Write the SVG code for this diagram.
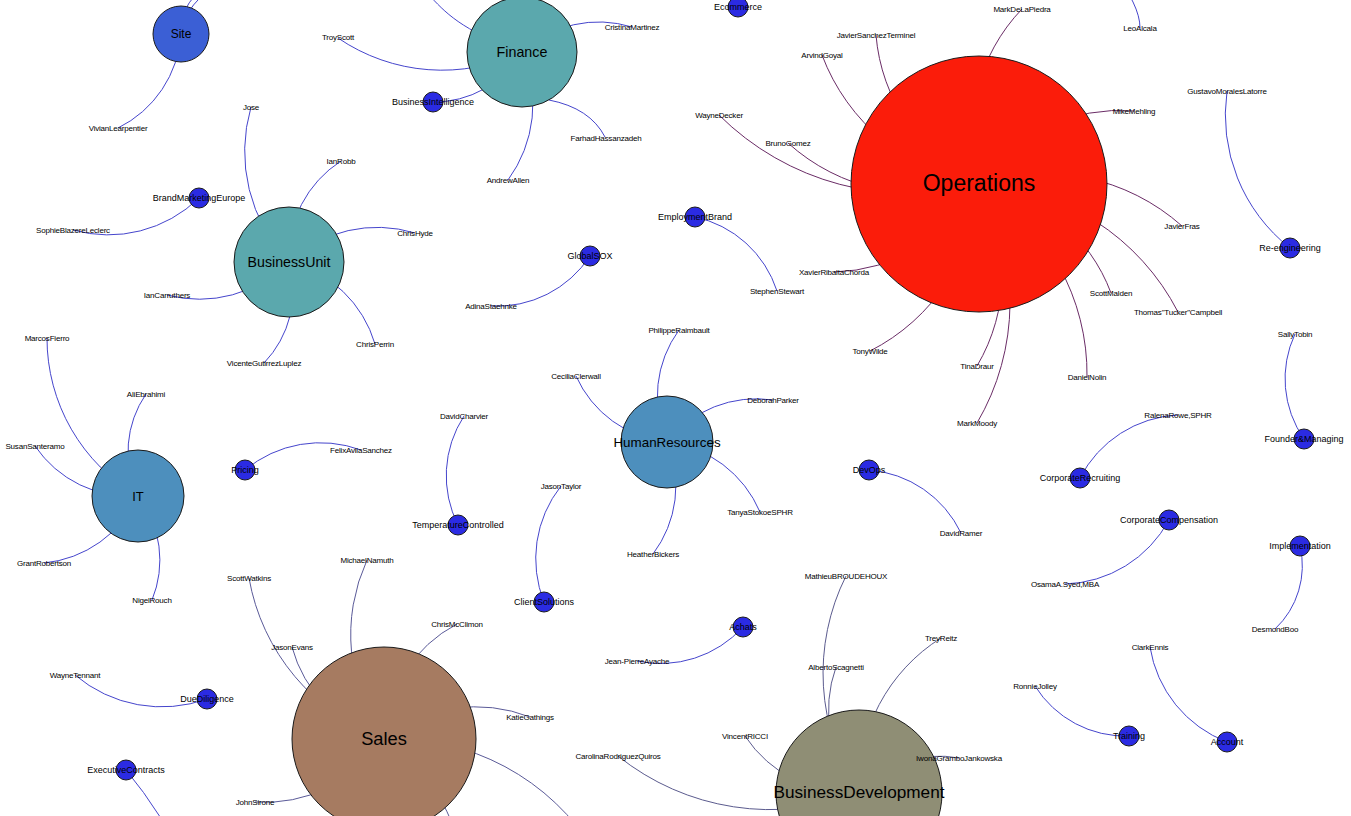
<svg xmlns="http://www.w3.org/2000/svg" width="1351" height="816" viewBox="0 0 1351 816">
<style>
text{font-family:"Liberation Sans",Arial,sans-serif;fill:#000;text-anchor:middle}
.l{font-size:8px;letter-spacing:-0.2px}
.s{font-size:9px}
path{fill:none;stroke-width:1}
.e{stroke:#4545cc}
.eo{stroke:#6a2c66}
.es{stroke:#5a5a98}
.eb{stroke:#5b5b8e}
circle{stroke:#1a1a1a;stroke-width:1}
.sm{fill:#2b2be3}
</style>
<rect width="1351" height="816" fill="#fff"/>
<g id="connectors">
<path class="e" d="M181 34 A113.2 113.2 0 0 1 118 128"/>
<path class="e" d="M181 34 A50.1 50.1 0 0 1 203 -11"/>
<path class="e" d="M181 34 A61.2 61.2 0 0 1 219 -14"/>
<path class="e" d="M522 52 A184.5 184.5 0 0 1 338 38"/>
<path class="e" d="M522 52 A102.1 102.1 0 0 1 433 102"/>
<path class="e" d="M522 52 A112.8 112.8 0 0 1 632 27"/>
<path class="e" d="M522 52 L549 100 Q590 108 605 137"/>
<path class="e" d="M522 52 A128.8 128.8 0 0 1 508 180"/>
<path class="e" d="M428 -6 C445 12 460 30 522 52"/>
<path class="eo" d="M979 184 A180.2 180.2 0 0 1 1022 9"/>
<path class="eo" d="M979 184 A181.1 181.1 0 0 1 876 35"/>
<path class="eo" d="M979 184 A203.2 203.2 0 0 1 822 55"/>
<path class="eo" d="M979 184 A269 269 0 0 1 719 115"/>
<path class="eo" d="M979 184 A195.4 195.4 0 0 1 788 143"/>
<path class="eo" d="M979 184 A171.3 171.3 0 0 1 1134 111"/>
<path class="eo" d="M979 184 A207.3 207.3 0 0 1 1182 226"/>
<path class="eo" d="M979 184 A236.6 236.6 0 0 1 1178 312"/>
<path class="eo" d="M979 184 A171.2 171.2 0 0 1 1111 293"/>
<path class="eo" d="M979 184 A221.2 221.2 0 0 1 1087 377"/>
<path class="eo" d="M979 184 A239 239 0 0 1 977 423"/>
<path class="eo" d="M979 184 A182 182 0 0 1 977 366"/>
<path class="eo" d="M979 184 A199.4 199.4 0 0 1 870 351"/>
<path class="eo" d="M979 184 A169.6 169.6 0 0 1 834 272"/>
<path class="e" d="M695 217 A110.5 110.5 0 0 1 777 291"/>
<path class="e" d="M1290 248 A169.2 169.2 0 0 1 1227 91"/>
<path class="e" d="M1112 -30 Q1140 5 1140 28"/>
<path class="e" d="M289 262 A159.6 159.6 0 0 1 251 107"/>
<path class="e" d="M289 262 A113.6 113.6 0 0 1 341 161"/>
<path class="e" d="M289 262 A129.3 129.3 0 0 1 415 233"/>
<path class="e" d="M289 262 A118.8 118.8 0 0 1 375 344"/>
<path class="e" d="M289 262 A104 104 0 0 1 264 363"/>
<path class="e" d="M289 262 A126.4 126.4 0 0 1 167 295"/>
<path class="e" d="M199 198 A130 130 0 0 1 73 230"/>
<path class="e" d="M590 256 A110.9 110.9 0 0 1 491 306"/>
<path class="e" d="M138 496 A182.3 182.3 0 0 1 47 338"/>
<path class="e" d="M138 496 A102.3 102.3 0 0 1 146 394"/>
<path class="e" d="M138 496 A114.5 114.5 0 0 1 35 446"/>
<path class="e" d="M138 496 A115.4 115.4 0 0 1 44 563"/>
<path class="e" d="M138 496 A104.9 104.9 0 0 1 152 600"/>
<path class="e" d="M245 470 A117.7 117.7 0 0 1 361 450"/>
<path class="e" d="M458 525 A109.2 109.2 0 0 1 464 416"/>
<path class="e" d="M544 602 A117.2 117.2 0 0 1 561 486"/>
<path class="e" d="M667 442 A112.6 112.6 0 0 1 679 330"/>
<path class="e" d="M667 442 A112.4 112.4 0 0 1 576 376"/>
<path class="e" d="M667 442 A114 114 0 0 1 773 400"/>
<path class="e" d="M667 442 A116.4 116.4 0 0 1 760 512"/>
<path class="e" d="M667 442 A112.9 112.9 0 0 1 653 554"/>
<path class="e" d="M869 470 A111.5 111.5 0 0 1 961 533"/>
<path class="e" d="M1080 478 A116.5 116.5 0 0 1 1178 415"/>
<path class="e" d="M1304 439 A105.4 105.4 0 0 1 1295 334"/>
<path class="e" d="M1169 520 A122.1 122.1 0 0 1 1065 584"/>
<path class="e" d="M1300 546 A86.7 86.7 0 0 1 1275 629"/>
<path class="e" d="M1227 742 A122.3 122.3 0 0 1 1150 647"/>
<path class="e" d="M1129 736 A106.5 106.5 0 0 1 1035 686"/>
<path class="e" d="M743 627 A111.3 111.3 0 0 1 637 661"/>
<path class="e" d="M207 699 A134.2 134.2 0 0 1 75 675"/>
<path class="e" d="M126 770 A436.3 436.3 0 0 1 200 1200"/>
<path class="es" d="M384 739 A210.1 210.1 0 0 1 249 578"/>
<path class="es" d="M384 739 A130.1 130.1 0 0 1 292 647"/>
<path class="es" d="M384 739 A179.8 179.8 0 0 1 367 560"/>
<path class="es" d="M384 739 A136.2 136.2 0 0 1 457 624"/>
<path class="es" d="M384 739 A147.6 147.6 0 0 1 530 717"/>
<path class="es" d="M384 739 A143.6 143.6 0 0 1 255 802"/>
<path class="es" d="M384 739 A235 235 0 0 1 595 852"/>
<path class="es" d="M384 739 A184.7 184.7 0 0 1 465 905"/>
<path class="eb" d="M859 793 A217.4 217.4 0 0 1 846 576"/>
<path class="eb" d="M859 793 A128.1 128.1 0 0 1 836 667"/>
<path class="eb" d="M859 793 A175.4 175.4 0 0 1 941 638"/>
<path class="eb" d="M859 793 A106 106 0 0 1 959 758"/>
<path class="eb" d="M859 793 A127.5 127.5 0 0 1 745 736"/>
<path class="eb" d="M859 793 A243.8 243.8 0 0 1 618 756"/>
</g>
<g id="n-Site"><circle cx="181" cy="34" r="28" fill="#3b5fd5"/><text x="181" y="34" dy=".35em" font-size="12">Site</text></g>
<g id="n-Finance"><circle cx="522" cy="52" r="55" fill="#5ba8ad"/><text x="522" y="52" dy=".35em" font-size="14.3">Finance</text></g>
<g id="n-Operations"><circle cx="979" cy="184" r="128" fill="#fb1c0a"/><text x="979" y="183" dy=".35em" font-size="23">Operations</text></g>
<g id="n-BusinessUnit"><circle cx="289" cy="262" r="55" fill="#5ba8ad"/><text x="289" y="262" dy=".35em" font-size="14.2">BusinessUnit</text></g>
<g id="n-IT"><circle cx="138" cy="496" r="46" fill="#4d8fbd"/><text x="138" y="496" dy=".35em" font-size="13">IT</text></g>
<g id="n-HumanResources"><circle cx="667" cy="442" r="46" fill="#4d8fbd"/><text x="667" y="442" dy=".35em" font-size="13.4">HumanResources</text></g>
<g id="n-Sales"><circle cx="384" cy="739" r="92" fill="#a67b61"/><text x="384" y="739" dy=".35em" font-size="18.3">Sales</text></g>
<g id="n-BusinessDevelopment"><circle cx="859" cy="793" r="83" fill="#8f8e75"/><text x="859" y="792" dy=".35em" font-size="17.2">BusinessDevelopment</text></g>
<g id="n-Ecommerce"><circle class="sm" cx="738" cy="7" r="10"/><text class="s" x="738" y="7" dy=".35em">Ecommerce</text></g>
<g id="n-BusinessIntelligence"><circle class="sm" cx="433" cy="102" r="10"/><text class="s" x="433" y="102" dy=".35em">BusinessIntelligence</text></g>
<g id="n-BrandMarketingEurope"><circle class="sm" cx="199" cy="198" r="10"/><text class="s" x="199" y="198" dy=".35em">BrandMarketingEurope</text></g>
<g id="n-GlobalSOX"><circle class="sm" cx="590" cy="256" r="10"/><text class="s" x="590" y="256" dy=".35em">GlobalSOX</text></g>
<g id="n-EmploymentBrand"><circle class="sm" cx="695" cy="217" r="10"/><text class="s" x="695" y="217" dy=".35em">EmploymentBrand</text></g>
<g id="n-Re-engineering"><circle class="sm" cx="1290" cy="248" r="10"/><text class="s" x="1290" y="248" dy=".35em">Re-engineering</text></g>
<g id="n-Pricing"><circle class="sm" cx="245" cy="470" r="10"/><text class="s" x="245" y="470" dy=".35em">Pricing</text></g>
<g id="n-TemperatureControlled"><circle class="sm" cx="458" cy="525" r="10"/><text class="s" x="458" y="525" dy=".35em">TemperatureControlled</text></g>
<g id="n-DevOps"><circle class="sm" cx="869" cy="470" r="10"/><text class="s" x="869" y="470" dy=".35em">DevOps</text></g>
<g id="n-CorporateRecruiting"><circle class="sm" cx="1080" cy="478" r="10"/><text class="s" x="1080" y="478" dy=".35em">CorporateRecruiting</text></g>
<g id="n-FounderManaging"><circle class="sm" cx="1304" cy="439" r="10"/><text class="s" x="1304" y="439" dy=".35em">Founder&amp;Managing</text></g>
<g id="n-CorporateCompensation"><circle class="sm" cx="1169" cy="520" r="10"/><text class="s" x="1169" y="520" dy=".35em">CorporateCompensation</text></g>
<g id="n-Implementation"><circle class="sm" cx="1300" cy="546" r="10"/><text class="s" x="1300" y="546" dy=".35em">Implementation</text></g>
<g id="n-ClientSolutions"><circle class="sm" cx="544" cy="602" r="10"/><text class="s" x="544" y="602" dy=".35em">ClientSolutions</text></g>
<g id="n-Achats"><circle class="sm" cx="743" cy="627" r="10"/><text class="s" x="743" y="627" dy=".35em">Achats</text></g>
<g id="n-DueDiligence"><circle class="sm" cx="207" cy="699" r="10"/><text class="s" x="207" y="699" dy=".35em">DueDiligence</text></g>
<g id="n-ExecutiveContracts"><circle class="sm" cx="126" cy="770" r="10"/><text class="s" x="126" y="770" dy=".35em">ExecutiveContracts</text></g>
<g id="n-Training"><circle class="sm" cx="1129" cy="736" r="10"/><text class="s" x="1129" y="736" dy=".35em">Training</text></g>
<g id="n-Account"><circle class="sm" cx="1227" cy="742" r="10"/><text class="s" x="1227" y="742" dy=".35em">Account</text></g>
<g id="people">
<g id="p1"><text class="l" x="118" y="128" dy=".35em">VivianLearpentier</text></g>
<g id="p2"><text class="l" x="338" y="37" dy=".35em">TroyScott</text></g>
<g id="p3"><text class="l" x="632" y="27" dy=".35em">CristinaMartinez</text></g>
<g id="p4"><text class="l" x="606" y="138" dy=".35em">FarhadHassanzadeh</text></g>
<g id="p5"><text class="l" x="508" y="180" dy=".35em">AndrewAllen</text></g>
<g id="p6"><text class="l" x="1022" y="9" dy=".35em">MarkDeLaPiedra</text></g>
<g id="p7"><text class="l" x="876" y="35" dy=".35em">JavierSanchezTerminel</text></g>
<g id="p8"><text class="l" x="822" y="55" dy=".35em">ArvindGoyal</text></g>
<g id="p9"><text class="l" x="719" y="115" dy=".35em">WayneDecker</text></g>
<g id="p10"><text class="l" x="788" y="143" dy=".35em">BrunoGomez</text></g>
<g id="p11"><text class="l" x="1134" y="111" dy=".35em">MikeMehling</text></g>
<g id="p12"><text class="l" x="1182" y="226" dy=".35em">JavierFras</text></g>
<g id="p13"><text class="l" x="1178" y="312" dy=".35em">Thomas&quot;Tucker&quot;Campbell</text></g>
<g id="p14"><text class="l" x="1111" y="293" dy=".35em">ScottMalden</text></g>
<g id="p15"><text class="l" x="1087" y="377" dy=".35em">DanielNolin</text></g>
<g id="p16"><text class="l" x="977" y="423" dy=".35em">MarkMoody</text></g>
<g id="p17"><text class="l" x="977" y="366" dy=".35em">TinaDraur</text></g>
<g id="p18"><text class="l" x="870" y="351" dy=".35em">TonyWilde</text></g>
<g id="p19"><text class="l" x="834" y="272" dy=".35em">XavierRibaltaChorda</text></g>
<g id="p20"><text class="l" x="777" y="291" dy=".35em">StephenStewart</text></g>
<g id="p21"><text class="l" x="1140" y="28" dy=".35em">LeoAlcala</text></g>
<g id="p22"><text class="l" x="1227" y="91" dy=".35em">GustavoMoralesLatorre</text></g>
<g id="p23"><text class="l" x="251" y="107" dy=".35em">Jose</text></g>
<g id="p24"><text class="l" x="341" y="161" dy=".35em">IanRobb</text></g>
<g id="p25"><text class="l" x="415" y="233" dy=".35em">ChrisHyde</text></g>
<g id="p26"><text class="l" x="375" y="344" dy=".35em">ChrisPerrin</text></g>
<g id="p27"><text class="l" x="264" y="363" dy=".35em">VicenteGutirrezLuplez</text></g>
<g id="p28"><text class="l" x="167" y="295" dy=".35em">IanCarruthers</text></g>
<g id="p29"><text class="l" x="73" y="230" dy=".35em">SophieBlazereLeclerc</text></g>
<g id="p30"><text class="l" x="491" y="306" dy=".35em">AdinaStaehnke</text></g>
<g id="p31"><text class="l" x="47" y="338" dy=".35em">MarcosFierro</text></g>
<g id="p32"><text class="l" x="146" y="394" dy=".35em">AliEbrahimi</text></g>
<g id="p33"><text class="l" x="35" y="446" dy=".35em">SusanSanteramo</text></g>
<g id="p34"><text class="l" x="44" y="563" dy=".35em">GrantRobertson</text></g>
<g id="p35"><text class="l" x="152" y="600" dy=".35em">NigelRouch</text></g>
<g id="p36"><text class="l" x="361" y="450" dy=".35em">FelixAvilaSanchez</text></g>
<g id="p37"><text class="l" x="464" y="416" dy=".35em">DavidCharvier</text></g>
<g id="p38"><text class="l" x="561" y="486" dy=".35em">JasonTaylor</text></g>
<g id="p39"><text class="l" x="679" y="330" dy=".35em">PhilippeRaimbault</text></g>
<g id="p40"><text class="l" x="576" y="376" dy=".35em">CeciliaClerwall</text></g>
<g id="p41"><text class="l" x="773" y="400" dy=".35em">DeborahParker</text></g>
<g id="p42"><text class="l" x="760" y="512" dy=".35em">TanyaStokoeSPHR</text></g>
<g id="p43"><text class="l" x="653" y="554" dy=".35em">HeatherBickers</text></g>
<g id="p44"><text class="l" x="961" y="533" dy=".35em">DavidRamer</text></g>
<g id="p45"><text class="l" x="1178" y="415" dy=".35em">RalenaRowe,SPHR</text></g>
<g id="p46"><text class="l" x="1295" y="334" dy=".35em">SallyTobin</text></g>
<g id="p47"><text class="l" x="1065" y="584" dy=".35em">OsamaA.Syed,MBA</text></g>
<g id="p48"><text class="l" x="1275" y="629" dy=".35em">DesmondBoo</text></g>
<g id="p49"><text class="l" x="1150" y="647" dy=".35em">ClarkEnnis</text></g>
<g id="p50"><text class="l" x="1035" y="686" dy=".35em">RonnieJolley</text></g>
<g id="p51"><text class="l" x="637" y="661" dy=".35em">Jean-PierreAyache</text></g>
<g id="p52"><text class="l" x="75" y="675" dy=".35em">WayneTennant</text></g>
<g id="p53"><text class="l" x="249" y="578" dy=".35em">ScottWatkins</text></g>
<g id="p54"><text class="l" x="292" y="647" dy=".35em">JasonEvans</text></g>
<g id="p55"><text class="l" x="367" y="560" dy=".35em">MichaelNamuth</text></g>
<g id="p56"><text class="l" x="457" y="624" dy=".35em">ChrisMcClimon</text></g>
<g id="p57"><text class="l" x="530" y="717" dy=".35em">KatieGathings</text></g>
<g id="p58"><text class="l" x="255" y="802" dy=".35em">JohnSirone</text></g>
<g id="p59"><text class="l" x="846" y="576" dy=".35em">MathieuBROUDEHOUX</text></g>
<g id="p60"><text class="l" x="836" y="667" dy=".35em">AlbertoScagnetti</text></g>
<g id="p61"><text class="l" x="941" y="638" dy=".35em">TreyReitz</text></g>
<g id="p62"><text class="l" x="959" y="758" dy=".35em">IwonaGramboJankowska</text></g>
<g id="p63"><text class="l" x="745" y="736" dy=".35em">VincentRICCI</text></g>
<g id="p64"><text class="l" x="618" y="756" dy=".35em">CarolinaRodriguezQuiros</text></g>
</g>
</svg>
